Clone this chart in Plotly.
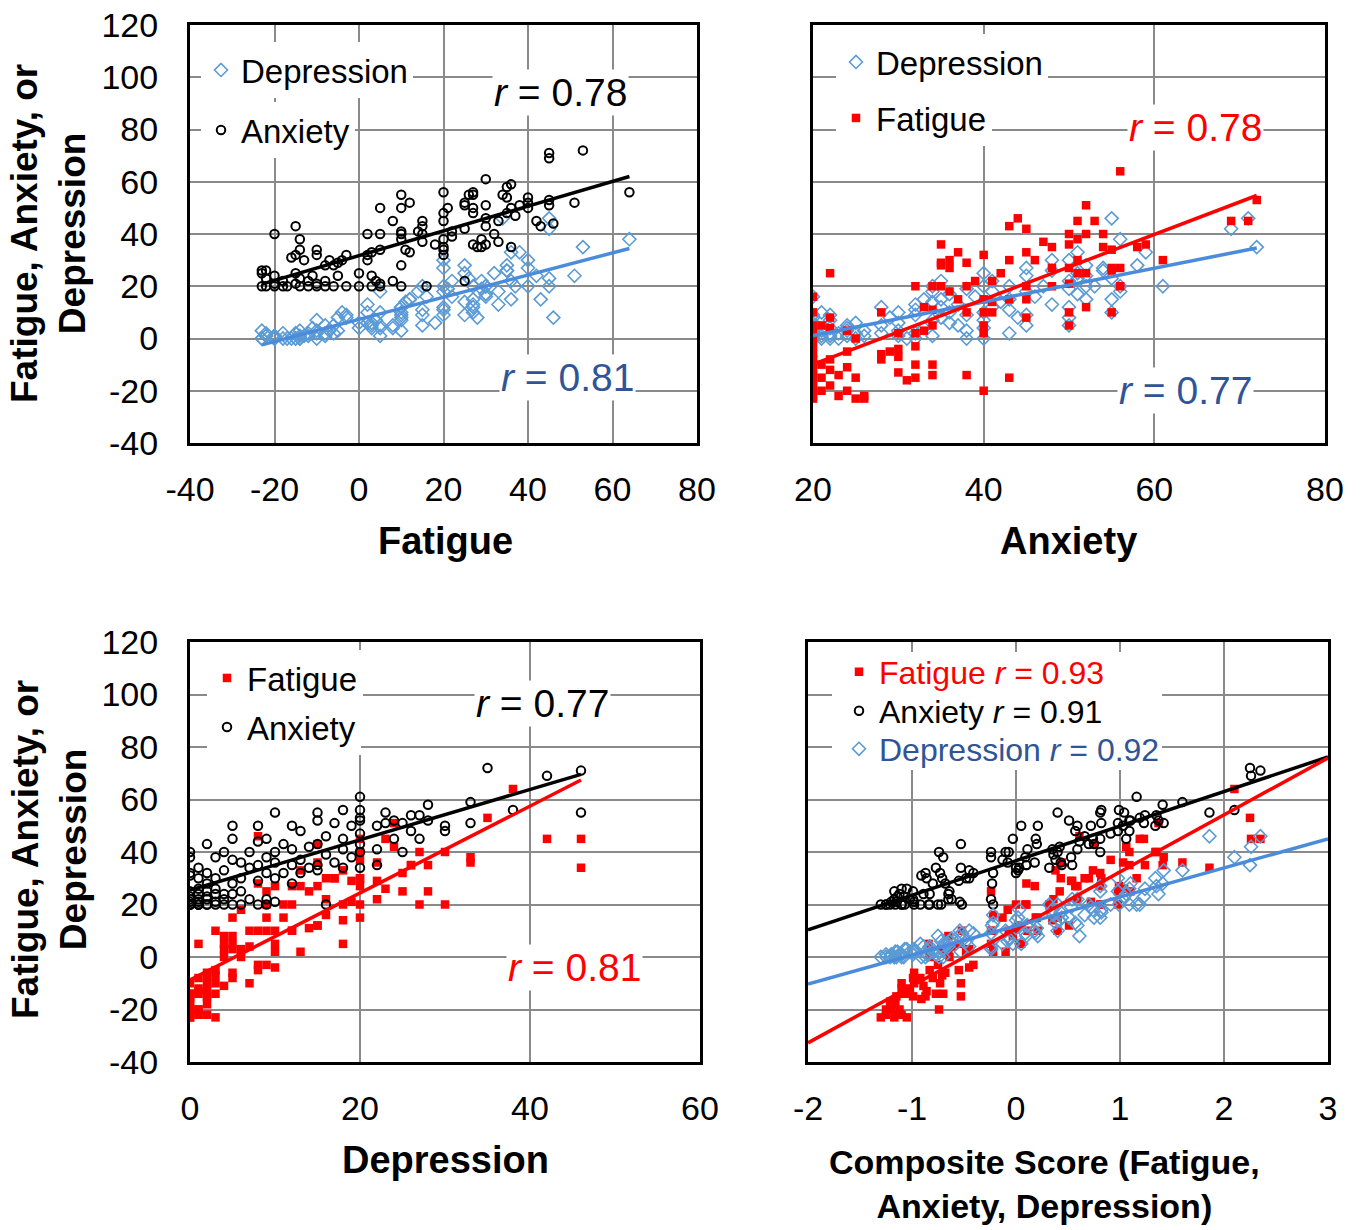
import numpy as np
import plotly.graph_objects as go

# ---------------- data (per participant, read/estimated from the figure) ----------------
fatigue = [-23, -22, -20, -18, -17, -14, -12, -10, -8, -6, -3, 0, 3, 5, 10, 16, -20, -15, -10, 5,
           -18, -12, -8, 4, 8, 25, -22, -14, -5, 3, -20, -11, -23, -15, 0, -23, -22, -6, -8, 10,
           -5, -13, 2, -4, -7, -16, -10, -15, -3, 2, 20, 3, 12, -14, -10, 5, 11, 20, 20, 28,
           29, 36, 30, 18, 27, 15, 33, 29, 20, 10, -14, 22, 10, 5, 2, -20, 32, 15, 10, 22,
           14, 25, 43, 30, -15, 15, 46, 42, 33, 20, 15, 8, 30, 37, 35, 27, 20, 36, 40, 21,
           27, 10, 5, 45, 30, 25, 38, 51, 40, 25, 12, 45, 40, 35, 27, 26, 10, 64, 27, 20,
           35, 36, 30, 53, 45, 45, 34]
anxiety = [20, 20, 20, 20, 20, 20, 20, 20, 20, 20, 20, 20, 20, 20, 20, 20, 21, 21, 21, 21,
           22, 22, 22, 22, 22, 22, 23, 23, 24, 24, 24, 24, 25, 25, 25, 26, 26, 28, 28, 28,
           29, 30, 30, 30, 30, 31, 32, 32, 32, 32, 32, 33, 33, 34, 34, 34, 34, 34, 35, 35,
           35, 35, 36, 36, 36, 37, 37, 38, 38, 38, 38, 39, 40, 40, 40, 40, 40, 40, 41, 41,
           41, 42, 43, 43, 43, 43, 44, 45, 45, 45, 45, 45, 46, 47, 48, 48, 48, 50, 50, 50,
           50, 50, 50, 51, 51, 51, 51, 52, 52, 52, 52, 53, 54, 54, 55, 55, 55, 56, 56, 56,
           58, 59, 61, 72, 69, 71, 55]
depression = [0, 1, 0, 2, 0, 3, 1, 0, 5, 2, 8, 4, 6, 1, 9, 16, 1, 0, 3, 10,
              0, 2, 1, 7, 4, 9, 2, 0, 3, 5, 1, 4, 0, 2, 6, 3, 1, 5, 2, 12,
              8, 1, 6, 10, 3, 0, 2, 0, 9, 13, 11, 4, 15, 1, 7, 18, 14, 20, 12, 8,
              22, 15, 17, 6, 10, 5, 13, 19, 9, 3, 0, 16, 7, 4, 10, 0, 25, 20, 12, 22,
              18, 14, 15, 20, 2, 11, 8, 24, 18, 27, 9, 5, 16, 20, 26, 13, 30, 22, 30, 19,
              12, 8, 5, 23, 17, 25, 33, 24, 20, 28, 15, 20, 27, 26, 15, 23, 10, 38, 20, 18,
              28, 33, 20, 35, 42, 46, 46]
composite = [-1.30, -1.25, -1.25, -1.16, -1.21, -1.07, -1.10, -1.10, -0.92, -0.98, -0.75, -0.83, -0.72, -0.84, -0.52, -0.22, -1.20, -1.15, -0.98, -0.54,
             -1.17, -1.02, -0.99, -0.62, -0.65, -0.24, -1.14, -1.08, -0.83, -0.65, -1.12, -0.89, -1.17, -0.99, -0.64, -1.05, -1.10, -0.68, -0.80, -0.23,
             -0.55, -0.86, -0.48, -0.45, -0.71, -0.91, -0.73, -0.87, -0.41, -0.22, 0.00, -0.45, 0.02, -0.77, -0.53, 0.03, 0.00, 0.32, 0.10, 0.10,
             0.54, 0.44, 0.43, -0.08, 0.18, -0.13, 0.38, 0.53, 0.09, -0.24, -0.70, 0.36, -0.07, -0.24, -0.10, -0.74, 0.81, 0.40, 0.11, 0.59,
             0.35, 0.42, 0.75, 0.70, -0.53, 0.20, 0.61, 1.06, 0.74, 0.81, 0.19, -0.03, 0.66, 0.91, 1.09, 0.57, 0.98, 1.03, 1.34, 0.72,
             0.59, 0.21, 0.05, 1.23, 0.82, 0.98, 1.42, 1.37, 1.09, 1.10, 0.51, 1.19, 1.35, 1.24, 0.81, 1.04, 0.40, 2.10, 0.99, 0.82,
             1.41, 1.60, 1.16, 2.25, 2.26, 2.35, 1.86]

# axis tick values and labels (hyphen-minus as in the original)
y_ticks = [-40, -20, 0, 20, 40, 60, 80, 100, 120]
y_tick_text = ["-40", "-20", "0", "20", "40", "60", "80", "100", "120"]
x_ticks_fatigue = [-40, -20, 0, 20, 40, 60, 80]
x_text_fatigue = ["-40", "-20", "0", "20", "40", "60", "80"]
x_ticks_anxiety = [20, 40, 60, 80]
x_text_anxiety = ["20", "40", "60", "80"]
x_ticks_depression = [0, 20, 40, 60]
x_text_depression = ["0", "20", "40", "60"]
x_ticks_composite = [-2, -1, 0, 1, 2, 3]
x_text_composite = ["-2", "-1", "0", "1", "2", "3"]

# correlation labels shown in figure
r_labels = {"p1_anx": "0.78", "p1_dep": "0.81", "p2_fat": "0.78", "p2_dep": "0.77",
            "p3_anx": "0.77", "p3_fat": "0.81", "p4_fat": "0.93", "p4_anx": "0.91", "p4_dep": "0.92"}

# ---------------- style ----------------
W, H = 1360, 1230
FONT = "Liberation Sans, Arial, sans-serif"
RED = "#FF0000"
BLUE = "#5B9BD5"
BLUE_LINE = "#4A8CDB"
BLUE_TXT = "#2F5597"
BLACK = "#000000"
GRID = "#8a8a8a"


def px(x):
    return x / W


def py(y):
    return 1 - y / H


def trend(x, y, lo=None, hi=None):
    x = np.asarray(x, float)
    y = np.asarray(y, float)
    m, b = np.polyfit(x, y, 1)
    xs = np.array([x.min() if lo is None else lo, x.max() if hi is None else hi])
    return xs, m * xs + b


fig = go.Figure()

DEP_M = dict(symbol="diamond-open", size=10, color=BLUE, line=dict(width=1.6, color=BLUE))
ANX_M = dict(symbol="circle-open", size=8.5, color=BLACK, line=dict(width=2, color=BLACK))
FAT_M = dict(symbol="square", size=8.5, color=RED, line=dict(width=0))


def add_points(xv, yv, marker, name, xa, ya, legend):
    fig.add_trace(go.Scatter(x=xv, y=yv, mode="markers", marker=marker, name=name,
                             xaxis=xa, yaxis=ya, legend=legend, showlegend=True,
                             hoverinfo="skip"))


def add_line(xv, yv, color, xa, ya, lo=None, hi=None):
    xs, ys = trend(xv, yv, lo, hi)
    fig.add_trace(go.Scatter(x=xs, y=ys, mode="lines", line=dict(color=color, width=3.5),
                             xaxis=xa, yaxis=ya, showlegend=False, hoverinfo="skip"))


# Panel 1: vs Fatigue
add_points(fatigue, depression, DEP_M, "Depression", "x", "y", "legend")
add_points(fatigue, anxiety, ANX_M, "Anxiety", "x", "y", "legend2")
add_line(fatigue, anxiety, BLACK, "x", "y")
add_line(fatigue, depression, BLUE_LINE, "x", "y")

# Panel 2: vs Anxiety
add_points(anxiety, depression, DEP_M, "Depression", "x2", "y2", "legend3")
add_points(anxiety, fatigue, FAT_M, "Fatigue", "x2", "y2", "legend4")
add_line(anxiety, depression, BLUE_LINE, "x2", "y2")
add_line(anxiety, fatigue, RED, "x2", "y2")

# Panel 3: vs Depression
add_points(depression, fatigue, FAT_M, "Fatigue", "x3", "y3", "legend5")
add_points(depression, anxiety, ANX_M, "Anxiety", "x3", "y3", "legend6")
add_line(depression, anxiety, BLACK, "x3", "y3")
add_line(depression, fatigue, RED, "x3", "y3")

# Panel 4: vs Composite
add_points(composite, fatigue, FAT_M, "Fatigue <i>r</i> = " + r_labels["p4_fat"], "x4", "y4", "legend7")
add_points(composite, anxiety, ANX_M, "Anxiety <i>r</i> = " + r_labels["p4_anx"], "x4", "y4", "legend8")
add_points(composite, depression, DEP_M, "Depression <i>r</i> = " + r_labels["p4_dep"], "x4", "y4", "legend9")
add_line(composite, anxiety, BLACK, "x4", "y4", x_ticks_composite[0], x_ticks_composite[-1])
add_line(composite, fatigue, RED, "x4", "y4", x_ticks_composite[0], x_ticks_composite[-1])
add_line(composite, depression, BLUE_LINE, "x4", "y4", x_ticks_composite[0], x_ticks_composite[-1])

TICKFONT = dict(family=FONT, size=34, color=BLACK)


def xaxis(dom, ticks, texts, anchor):
    return dict(domain=[px(dom[0]), px(dom[1])], range=[ticks[0], ticks[-1]], tickvals=ticks,
                ticktext=texts, anchor=anchor, automargin=False,
                showgrid=True, gridcolor=GRID, gridwidth=1.5, zeroline=False,
                showline=True, mirror=True, linecolor=BLACK, linewidth=3, ticks="",
                tickfont=TICKFONT, ticklabelstandoff=14, fixedrange=True)


def yaxis(dom, anchor, labels):
    return dict(domain=[py(dom[1]), py(dom[0])], range=[y_ticks[0], y_ticks[-1]], tickvals=y_ticks,
                ticktext=y_tick_text, anchor=anchor, automargin=False,
                showgrid=True, gridcolor=GRID, gridwidth=1.5, zeroline=False,
                showline=True, mirror=True, linecolor=BLACK, linewidth=3, ticks="",
                showticklabels=labels, tickfont=TICKFONT, ticklabelstandoff=22, fixedrange=True)


layout = dict(
    width=W, height=H, margin=dict(l=0, r=0, t=0, b=0, autoexpand=False),
    paper_bgcolor="white", plot_bgcolor="white",
    font=dict(family=FONT, color=BLACK),
    xaxis=xaxis((190, 697), x_ticks_fatigue, x_text_fatigue, "y"),
    yaxis=yaxis((25, 443), "x", True),
    xaxis2=xaxis((813, 1325), x_ticks_anxiety, x_text_anxiety, "y2"),
    yaxis2=yaxis((25, 443), "x2", False),
    xaxis3=xaxis((190, 700), x_ticks_depression, x_text_depression, "y3"),
    yaxis3=yaxis((642, 1062), "x3", True),
    xaxis4=xaxis((808, 1328), x_ticks_composite, x_text_composite, "y4"),
    yaxis4=yaxis((642, 1062), "x4", False),
)

# legends: one per entry for exact placement (marker x, center y, text colour, font, background)
legend_spec = [
    ("legend", 222, 70, BLACK, 33, "white"), ("legend2", 222, 130, BLACK, 33, "white"),
    ("legend3", 857, 62, BLACK, 33, "white"), ("legend4", 857, 118, BLACK, 33, "white"),
    ("legend5", 228, 678, BLACK, 33, "white"), ("legend6", 228, 727, BLACK, 33, "white"),
    ("legend7", 860, 672, RED, 32, "rgba(0,0,0,0)"), ("legend8", 860, 711, BLACK, 32, "rgba(0,0,0,0)"),
    ("legend9", 860, 749, BLUE_TXT, 32, "rgba(0,0,0,0)"),
]
for key, mx, cy, col, fs, bg in legend_spec:
    layout[key] = dict(x=px(mx - 21), y=py(cy), xanchor="left", yanchor="middle",
                       bgcolor=bg, borderwidth=0, itemwidth=30,
                       font=dict(family=FONT, size=fs, color=col), itemclick=False,
                       itemdoubleclick=False)

# white box behind the panel-4 legend (hides grid lines like the original)
layout["shapes"] = [dict(type="rect", xref="paper", yref="paper", layer="above",
                         x0=px(832), x1=px(1162), y0=py(770), y1=py(652),
                         fillcolor="white", line=dict(width=0))]

fig.update_layout(**layout)

annotations = []


def r_note(x, y, val, color):
    annotations.append(dict(x=px(x), y=py(y), xref="paper", yref="paper", showarrow=False,
                            text="<i>r</i> = " + val, font=dict(family=FONT, size=39, color=color),
                            bgcolor="white", xanchor="center", yanchor="middle"))


r_note(560, 93, r_labels["p1_anx"], BLACK)
r_note(567, 377, r_labels["p1_dep"], BLUE_TXT)
r_note(1195, 128, r_labels["p2_fat"], RED)
r_note(1185, 390, r_labels["p2_dep"], BLUE_TXT)
r_note(542, 703, r_labels["p3_anx"], BLACK)
r_note(574, 967, r_labels["p3_fat"], RED)


def title(x, y, txt, size=38, angle=0):
    annotations.append(dict(x=px(x), y=py(y), xref="paper", yref="paper", showarrow=False,
                            text=txt, textangle=angle,
                            font=dict(family=FONT, size=size, color=BLACK),
                            xanchor="center", yanchor="middle"))


title(445, 541, "<b>Fatigue</b>")
title(1068, 541, "<b>Anxiety</b>")
title(445, 1160, "<b>Depression</b>")
title(1044, 1184, "<b>Composite Score (Fatigue,<br>Anxiety, Depression)</b>", size=34)
title(49, 234, "<b>Fatigue, Anxiety, or<br>Depression</b>", size=37, angle=-90)
title(49, 850, "<b>Fatigue, Anxiety, or<br>Depression</b>", size=37, angle=-90)

fig.update_layout(annotations=annotations)
fig.write_html("out.html", config={"displayModeBar": False},
               post_script="document.body.style.margin='0px';")
